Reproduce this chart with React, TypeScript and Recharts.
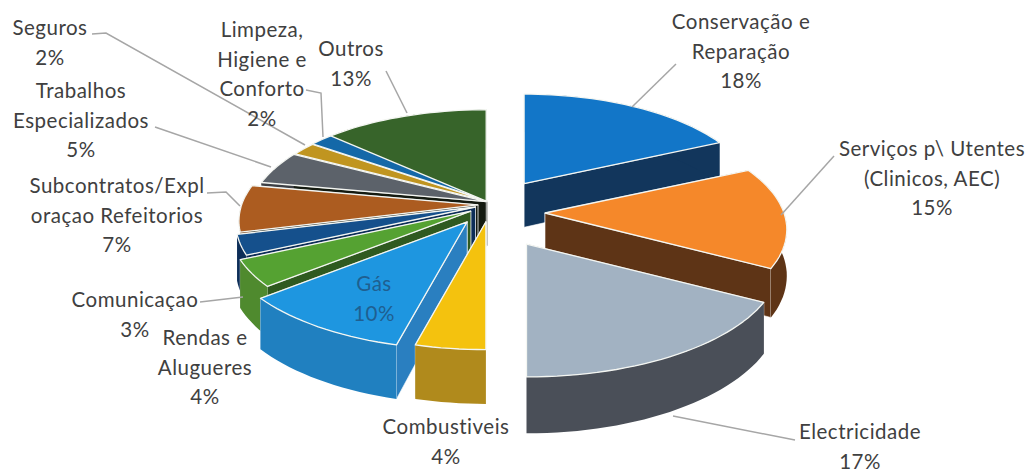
import { PieChart, Pie } from "recharts";

const names = [
  "Conservação e Reparação",
  "Serviços p\\ Utentes (Clinicos, AEC)",
  "Electricidade",
  "Combustiveis",
  "Gás",
  "Rendas e Alugueres",
  "Comunicaçao",
  "Subcontratos/Exploraçao Refeitorios",
  "Trabalhos Especializados",
  "Seguros",
  "Limpeza, Higiene e Conforto",
  "Outros",
];
const values = [18, 15, 17, 4, 10, 4, 3, 7, 5, 2, 2, 13];

const topColors = ["#1276c8", "#f5882a", "#a2b2c2", "#f4c20e", "#1e96e0", "#55a232", "#15508c", "#ac5c20", "#5c626a", "#c09520", "#1468a8", "#37642a"];
const outerWallColors = ["#12365c", "#5e3416", "#4a4f58", "#b08a1c", "#2080c0", "#4f8a2e", "#0d2e58", "#6e3a12", "#3c3f44", "#8a6a10", "#123f6a", "#2c4f20"];
const sideWallColors = ["#12365c", "#5e3416", "#3a3f48", "#8f7016", "#2a7fc0", "#2f5a20", "#0d2e58", "#141a10", "#141a10", "#141a10", "#141a10", "#141a10"];

// Slices pulled out of the pie, in fractions of the radius
const explodeX = [0.165, 0.253, 0.175, 0.004, -0.075, -0.06, -0.04, -0.03, 0.005, 0.01, 0.01, 0.005];
const explodeY = [-0.22, 0.057, 0.35, 0.14, 0.14, 0.04, 0, -0.02, -0.05, -0.055, -0.06, -0.055];

// label text lines, centre x and the baseline of the first line
const labelLines = [
  ["Conservação e", "Reparação", "18%"],
  ["Serviços p\\ Utentes", "(Clinicos, AEC)", "15%"],
  ["Electricidade", "17%"],
  ["Combustiveis", "4%"],
  ["Gás", "10%"],
  ["Rendas e", "Alugueres", "4%"],
  ["Comunicaçao", "3%"],
  ["Subcontratos/Expl", "oraçao Refeitorios", "7%"],
  ["Trabalhos", "Especializados", "5%"],
  ["Seguros", "2%"],
  ["Limpeza,", "Higiene e", "Conforto", "2%"],
  ["Outros", "13%"],
];
const labelX = [741, 932, 860, 446, 374, 205, 135, 117, 81, 50, 262, 351];
const labelY = [29, 156, 439, 434, 291, 345, 307, 193, 98, 35, 37, 56];
const labelColors = ["#404040", "#404040", "#404040", "#404040", "#1f5f90", "#404040", "#404040", "#404040", "#404040", "#404040", "#404040", "#404040"];

const leaders: (string | null)[] = [
  "M632,107 L676,64",
  "M781,215 L834,156",
  "M673,416 L795,440",
  null,
  null,
  null,
  "M200,302 L243,297",
  "M207,193 L226,192 L240,206",
  "M155,127 L271,167",
  "M92,34 L106,33 L305,145",
  "M306,90 L321,93 L323,137",
  "M386,71 L407,113",
];

const chartData = names.map((name, i) => ({ name, value: values[i], fill: topColors[i] }));
const reversedData = [...chartData].reverse();

const PIE_CX = 485;
const PIE_CY = 207;
const PIE_R = 237;
const TILT = 0.447; // vertical squash of the disc
const PERSPECTIVE = 0.15;
const DEPTH = 45;
const LAST_RIGHT_SLICE = 2;

type Pt = [number, number];

function project(i: number, deg: number, r: number, cx: number, cy: number, R: number, z = 0): Pt {
  const a = (deg * Math.PI) / 180;
  const u = r * Math.sin(a);
  const v = -r * Math.cos(a);
  const s = 1 / (1 - PERSPECTIVE * (v + explodeY[i]));
  return [cx + R * (explodeX[i] + u * s), cy + R * TILT * (explodeY[i] + v * s) + z * s];
}

function toPath(pts: Pt[]) {
  return "M" + pts.map((p) => `${p[0].toFixed(1)},${p[1].toFixed(1)}`).join(" L") + " Z";
}

function arc(i: number, from: number, to: number, cx: number, cy: number, R: number, z = 0) {
  const pts: Pt[] = [];
  const steps = Math.max(4, Math.ceil(Math.abs(to - from) / 2));
  for (let k = 0; k <= steps; k++) {
    pts.push(project(i, from + ((to - from) * k) / steps, 1, cx, cy, R, z));
  }
  return pts;
}

// recharts hands over math angles, the projection works clockwise from 12 o'clock
function sliceAngles(props: any) {
  const i = names.indexOf(props.name ?? props.payload?.name);
  return { i, from: 90 - props.startAngle, to: 90 - props.endAngle };
}

function Walls(props: any) {
  const { cx, cy, outerRadius: R } = props;
  const { i, from, to } = sliceAngles(props);
  const apexTop = project(i, 0, 0, cx, cy, R);
  const apexBottom = project(i, 0, 0, cx, cy, R, DEPTH);
  const sideStart: Pt[] = [apexTop, project(i, from, 1, cx, cy, R), project(i, from, 1, cx, cy, R, DEPTH), apexBottom];
  const sideEnd: Pt[] = [apexTop, project(i, to, 1, cx, cy, R), project(i, to, 1, cx, cy, R, DEPTH), apexBottom];
  const outer = [...arc(i, from, to, cx, cy, R), ...arc(i, to, from, cx, cy, R, DEPTH)];
  return (
    <g>
      <path d={toPath(sideStart)} fill={sideWallColors[i]} stroke="#ffffff" strokeWidth={0.6} />
      <path d={toPath(sideEnd)} fill={sideWallColors[i]} stroke="#ffffff" strokeWidth={0.6} />
      <path d={toPath(outer)} fill={outerWallColors[i]} />
    </g>
  );
}

// right half is painted clockwise, left half counter-clockwise, so nearer walls land on top
function RightWalls(props: any) {
  return sliceAngles(props).i <= LAST_RIGHT_SLICE ? <Walls {...props} /> : <g />;
}

function LeftWalls(props: any) {
  return sliceAngles(props).i > LAST_RIGHT_SLICE ? <Walls {...props} /> : <g />;
}

function TopShape(props: any) {
  const { cx, cy, outerRadius: R } = props;
  const { i, from, to } = sliceAngles(props);
  const pts = [project(i, 0, 0, cx, cy, R), ...arc(i, from, to, cx, cy, R)];
  return <path d={toPath(pts)} fill={topColors[i]} stroke="#f4f6f2" strokeWidth={1.3} strokeLinejoin="round" />;
}

function SliceLabel({ index }: any) {
  const lines = labelLines[index];
  const leader = leaders[index];
  return (
    <g>
      {leader && <path d={leader} fill="none" stroke="#a6a6a6" strokeWidth={1.5} />}
      <text
        x={labelX[index]}
        y={labelY[index]}
        textAnchor="middle"
        fontFamily="Lato, 'Open Sans', sans-serif"
        fontSize={20.5}
        letterSpacing={0.5}
        fill={labelColors[index]}
      >
        {lines.map((line, k) => (
          <tspan key={k} x={labelX[index]} dy={k === 0 ? 0 : 29.5}>
            {line}
          </tspan>
        ))}
      </text>
    </g>
  );
}

export default function App() {
  const pieProps = {
    dataKey: "value",
    nameKey: "name",
    cx: PIE_CX,
    cy: PIE_CY,
    outerRadius: PIE_R,
    isAnimationActive: false,
    labelLine: false,
  };
  return (
    <div style={{ position: "absolute", left: 0, top: 0, width: 1032, height: 472, background: "#ffffff" }}>
      <PieChart width={1032} height={472} margin={{ top: 0, right: 0, bottom: 0, left: 0 }}>
        {/* side walls first so every top surface sits over them */}
        <Pie {...pieProps} data={chartData} startAngle={90} endAngle={-270} shape={RightWalls} label={false} />
        <Pie {...pieProps} data={reversedData} startAngle={-270} endAngle={90} shape={LeftWalls} label={false} />
        <Pie {...pieProps} data={chartData} startAngle={90} endAngle={-270} shape={TopShape} label={SliceLabel} />
      </PieChart>
    </div>
  );
}
